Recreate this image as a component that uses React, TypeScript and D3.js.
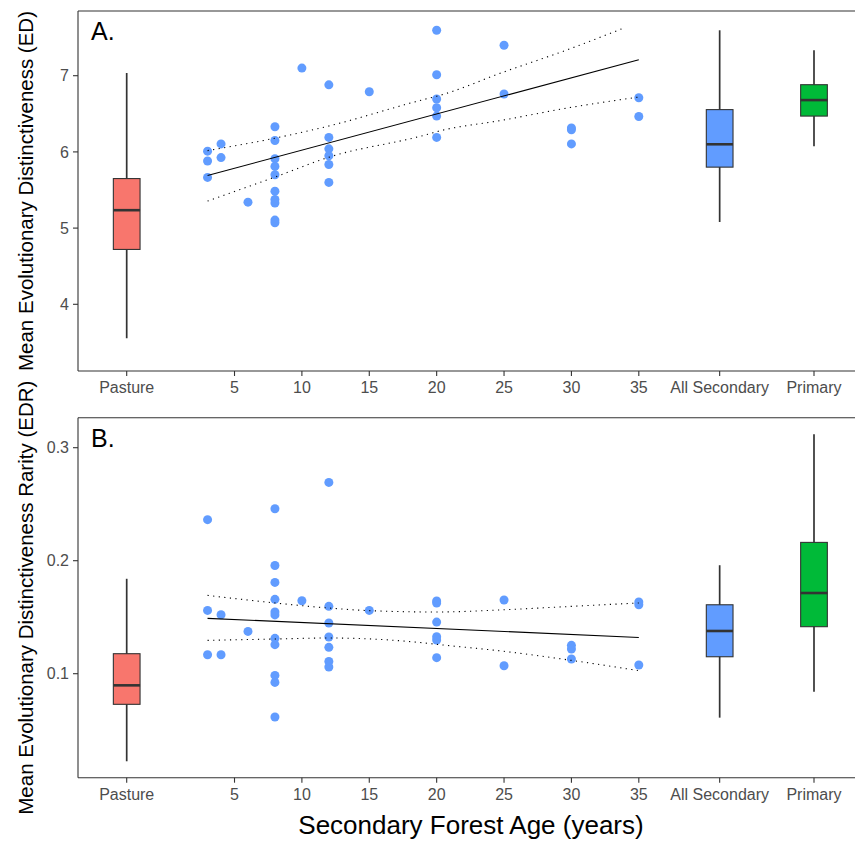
import React from "react";
import * as d3 from "d3";

// secondary forest sites: [age (years), value]
const edPoints: [number, number][] = [
  [3, 6.01], [3, 5.88], [3, 5.665],
  [4, 6.105], [4, 5.925],
  [6, 5.34],
  [8, 6.33], [8, 6.15], [8, 5.91], [8, 5.81], [8, 5.7], [8, 5.485], [8, 5.375], [8, 5.33], [8, 5.105], [8, 5.07],
  [10, 7.1],
  [12, 6.88], [12, 6.19], [12, 6.04], [12, 5.95], [12, 5.835], [12, 5.6],
  [15, 6.79],
  [20, 7.596], [20, 7.013], [20, 6.694], [20, 6.58], [20, 6.47], [20, 6.19],
  [25, 7.4], [25, 6.76],
  [30, 6.315], [30, 6.29], [30, 6.105],
  [35, 6.71], [35, 6.465],
];

const edrPoints: [number, number][] = [
  [3, 0.2363], [3, 0.156], [3, 0.1168],
  [4, 0.1522], [4, 0.1168],
  [6, 0.1374],
  [8, 0.246], [8, 0.1958], [8, 0.1808], [8, 0.1658], [8, 0.1546], [8, 0.152], [8, 0.1313], [8, 0.1257], [8, 0.0985], [8, 0.0923], [8, 0.0617],
  [10, 0.1646],
  [12, 0.2693], [12, 0.1596], [12, 0.1449], [12, 0.1325], [12, 0.1233], [12, 0.1109], [12, 0.1059],
  [15, 0.156],
  [20, 0.1643], [20, 0.1626], [20, 0.1457], [20, 0.1327], [20, 0.1298], [20, 0.1142],
  [25, 0.1652], [25, 0.107],
  [30, 0.1251], [30, 0.1219], [30, 0.113],
  [35, 0.1635], [35, 0.161], [35, 0.1077],
];

// fitted line and confidence band
const edFit: [number, number][] = [[3, 5.69], [35, 7.21]];
const edUpper: [number, number][] = [[3, 6.017], [8, 6.18], [12, 6.34], [19.1, 6.69], [20, 6.73], [25, 7.05], [30, 7.36], [33.8, 7.62]];
const edLower: [number, number][] = [[3, 5.355], [8, 5.67], [12, 5.93], [19.1, 6.22], [20, 6.265], [25, 6.42], [30, 6.585], [35, 6.72]];

const edrFit: [number, number][] = [[3, 0.149], [35, 0.1321]];
const edrUpper: [number, number][] = [[3, 0.1693], [8, 0.1626], [12, 0.1581], [15, 0.1558], [20, 0.1546], [25, 0.1566], [30, 0.1596], [35, 0.1626]];
const edrLower: [number, number][] = [[3, 0.1295], [8, 0.1307], [12, 0.1316], [19.1, 0.1272], [20, 0.126], [25, 0.1198], [30, 0.1118], [35, 0.1027]];

// box plot groups
const groups = ["Pasture", "All Secondary", "Primary"];
const groupPos = [-3, 41, 48];
const groupColors = ["#F8766D", "#619CFF", "#00BA38"];
// [lower whisker, q1, median, q3, upper whisker]
const edBoxes = [
  [3.555, 4.72, 5.235, 5.65, 7.035],
  [5.08, 5.8, 6.1, 6.555, 7.596],
  [6.075, 6.47, 6.68, 6.882, 7.333],
];
const edrBoxes = [
  [0.0225, 0.0729, 0.0897, 0.1177, 0.184],
  [0.0611, 0.115, 0.1378, 0.161, 0.196],
  [0.0841, 0.1416, 0.1714, 0.2162, 0.3118],
];

const ageTicks = [5, 10, 15, 20, 25, 30, 35];
const edTicks = [4, 5, 6, 7];
const edrTicks = [0.1, 0.2, 0.3];

const W = 855;
const H = 841;
const FONT = "Liberation Sans, Arial, Helvetica, sans-serif";
const left = 78;

const x = d3.scaleLinear().domain([-3, 48]).range([126.7, 814]);

type PanelProps = {
  top: number;
  bottom: number;
  y: d3.ScaleLinear<number, number>;
  points: [number, number][];
  fit: [number, number][];
  upper: [number, number][];
  lower: [number, number][];
  boxes: number[][];
  ticks: number[];
  fmt: (v: number) => string;
  tag: string;
  title: string;
};

function Panel({ top, bottom, y, points, fit, upper, lower, boxes, ticks, fmt, tag, title }: PanelProps) {
  const line = d3
    .line<[number, number]>()
    .x((d) => x(d[0]))
    .y((d) => y(d[1]))
    .curve(d3.curveMonotoneX);
  const xTicks = [
    ...ageTicks.map((t) => ({ v: t, label: String(t) })),
    ...groups.map((g, i) => ({ v: groupPos[i], label: g })),
  ];
  const boxW = 26.7;
  return (
    <g>
      {/* axes */}
      <line x1={left} x2={W} y1={top} y2={top} stroke="#333" strokeWidth={1.1} />
      <line x1={left} x2={left} y1={top} y2={bottom} stroke="#333" strokeWidth={1.1} />
      <line x1={left} x2={W} y1={bottom} y2={bottom} stroke="#333" strokeWidth={1.1} />
      {ticks.map((t) => (
        <g key={t}>
          <line x1={left - 5} x2={left} y1={y(t)} y2={y(t)} stroke="#333" strokeWidth={1.1} />
          <text x={left - 9} y={y(t)} dy="0.35em" textAnchor="end" fontSize={16} fill="#4D4D4D" fontFamily={FONT}>
            {fmt(t)}
          </text>
        </g>
      ))}
      {xTicks.map((t) => (
        <g key={t.label}>
          <line x1={x(t.v)} x2={x(t.v)} y1={bottom} y2={bottom + 5} stroke="#333" strokeWidth={1.1} />
          <text x={x(t.v)} y={bottom + 22.3} textAnchor="middle" fontSize={16} fill="#4D4D4D" fontFamily={FONT}>
            {t.label}
          </text>
        </g>
      ))}
      <text
        transform={`translate(33,${(top + bottom) / 2}) rotate(-90)`}
        textAnchor="middle"
        fontSize={20.5}
        fill="#000"
        fontFamily={FONT}
      >
        {title}
      </text>
      <text x={91} y={top + 29} fontSize={25} fill="#000" fontFamily={FONT}>
        {tag}
      </text>

      {/* box plots */}
      {boxes.map((b, i) => {
        const cx = x(groupPos[i]);
        return (
          <g key={groups[i]}>
            <line x1={cx} x2={cx} y1={y(b[0])} y2={y(b[4])} stroke="#333" strokeWidth={1.7} />
            <rect
              x={cx - boxW / 2}
              y={y(b[3])}
              width={boxW}
              height={y(b[1]) - y(b[3])}
              fill={groupColors[i]}
              stroke="#333"
              strokeWidth={1.1}
            />
            <line x1={cx - boxW / 2} x2={cx + boxW / 2} y1={y(b[2])} y2={y(b[2])} stroke="#333" strokeWidth={2.6} />
          </g>
        );
      })}

      {/* points */}
      {points.map((p, i) => (
        <circle key={i} cx={x(p[0])} cy={y(p[1])} r={4.5} fill="#619CFF" />
      ))}

      {/* fit and confidence band */}
      <path d={line(fit) ?? ""} fill="none" stroke="#000" strokeWidth={1.1} />
      <path d={line(upper) ?? ""} fill="none" stroke="#000" strokeWidth={1.1} strokeDasharray="1.2 4.4" />
      <path d={line(lower) ?? ""} fill="none" stroke="#000" strokeWidth={1.1} strokeDasharray="1.2 4.4" />
    </g>
  );
}

export default function App() {
  const yA = d3.scaleLinear().domain([4, 7]).range([304.3, 75.7]);
  const yB = d3.scaleLinear().domain([0.1, 0.3]).range([673.7, 447.7]);
  return (
    <svg
      width={W}
      height={H}
      style={{ position: "absolute", left: 0, top: 0, background: "#fff" }}
    >
      <rect width={W} height={H} fill="#fff" />
      <Panel
        top={11}
        bottom={371}
        y={yA}
        points={edPoints}
        fit={edFit}
        upper={edUpper}
        lower={edLower}
        boxes={edBoxes}
        ticks={edTicks}
        fmt={d3.format("d")}
        tag="A."
        title="Mean Evolutionary Distinctiveness (ED)"
      />
      <Panel
        top={417.7}
        bottom={777.7}
        y={yB}
        points={edrPoints}
        fit={edrFit}
        upper={edrUpper}
        lower={edrLower}
        boxes={edrBoxes}
        ticks={edrTicks}
        fmt={d3.format(".1f")}
        tag="B."
        title="Mean Evolutionary Distinctiveness Rarity (EDR)"
      />
      <text x={471} y={834.3} textAnchor="middle" fontSize={26} fill="#000" fontFamily={FONT}>
        Secondary Forest Age (years)
      </text>
    </svg>
  );
}
